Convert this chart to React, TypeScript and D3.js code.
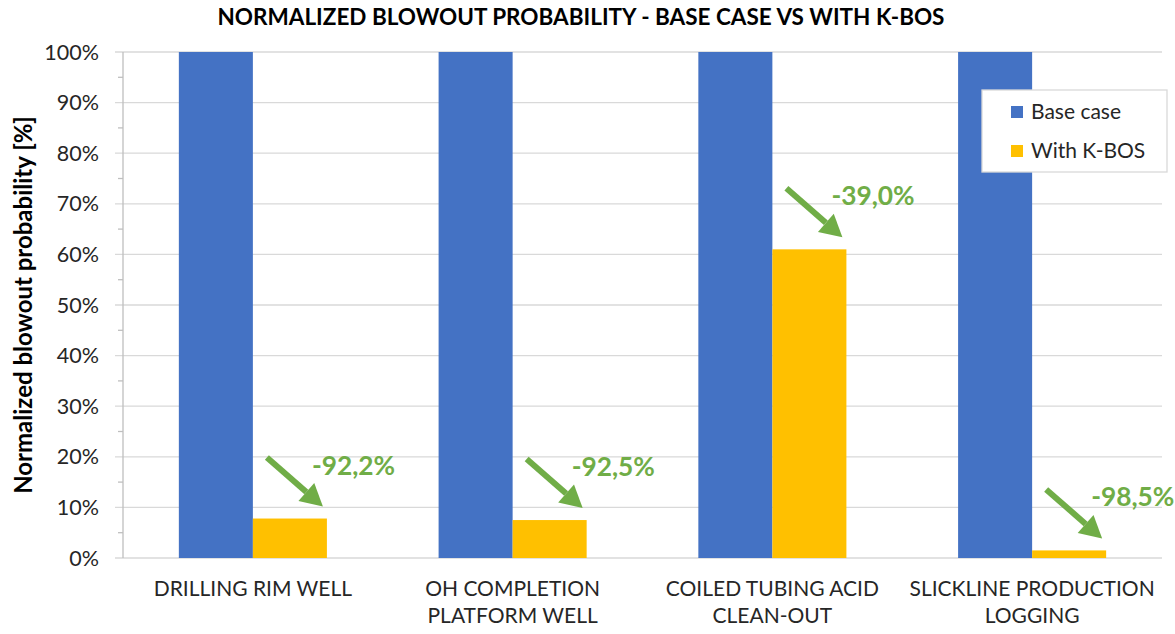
import React from "react";
import * as d3 from "d3";

const categories: string[][] = [
  ["DRILLING RIM WELL"],
  ["OH COMPLETION", "PLATFORM WELL"],
  ["COILED TUBING ACID", "CLEAN-OUT"],
  ["SLICKLINE PRODUCTION", "LOGGING"],
];
const baseCase: number[] = [100, 100, 100, 100];
const withKBOS: number[] = [7.8, 7.5, 61.0, 1.5];
const reductionLabels: string[] = ["-92,2%", "-92,5%", "-39,0%", "-98,5%"];
const seriesNames: string[] = ["Base case", "With K-BOS"];
const yTicks: number[] = [0, 10, 20, 30, 40, 50, 60, 70, 80, 90, 100];
const yMinorTicks: number[] = [5, 15, 25, 35, 45, 55, 65, 75, 85, 95];

const W = 1175;
const H = 634;
const margin = { left: 123, right: 13, top: 52, bottom: 76 };
const BLUE = "#4472C4";
const YELLOW = "#FFC000";
const GREEN = "#70AD47";
const FONT = "Lato, 'Open Sans', sans-serif";

export default function App() {
  const x0 = d3
    .scaleBand<number>()
    .domain(categories.map((_, i) => i))
    .range([margin.left, W - margin.right])
    .paddingInner(0.43)
    .paddingOuter(0.215);
  const x1 = d3
    .scaleBand<number>()
    .domain([0, 1])
    .range([0, x0.bandwidth()]);
  const y = d3
    .scaleLinear()
    .domain([0, 100])
    .range([H - margin.bottom, margin.top]);

  const series = [baseCase, withKBOS];
  const colors = [BLUE, YELLOW];

  return (
    <svg width={W} height={H} style={{ display: "block", position: "absolute", left: 0, top: 0 }}>
      <rect width={W} height={H} fill="#ffffff" />
      <text
        x={581}
        y={25}
        textAnchor="middle"
        fontFamily={FONT}
        fontWeight="bold"
        fontSize={22.5}
        fill="#000"
      >
        NORMALIZED BLOWOUT PROBABILITY - BASE CASE VS WITH K-BOS
      </text>
      {/* gridlines */}
      {yTicks.map((t) => (
        <line
          key={"g" + t}
          x1={margin.left - 8}
          x2={W - margin.right}
          y1={y(t)}
          y2={y(t)}
          stroke="#d9d9d9"
          strokeWidth={1.3}
        />
      ))}
      {yMinorTicks.map((t) => (
        <line
          key={"m" + t}
          x1={margin.left - 5}
          x2={margin.left}
          y1={y(t)}
          y2={y(t)}
          stroke="#bfbfbf"
          strokeWidth={1.3}
        />
      ))}
      <line
        x1={margin.left}
        x2={margin.left}
        y1={y(100)}
        y2={y(0)}
        stroke="#bfbfbf"
        strokeWidth={1.3}
      />
      {/* y tick labels */}
      {yTicks.map((t) => (
        <text
          key={"l" + t}
          x={99}
          y={y(t) + 7.5}
          textAnchor="end"
          fontFamily={FONT}
          fontSize={21.5}
          fill="#262626"
        >
          {t + "%"}
        </text>
      ))}
      <text
        transform={`translate(32, ${(y(0) + y(100)) / 2}) rotate(-90)`}
        textAnchor="middle"
        fontFamily={FONT}
        fontWeight="bold"
        fontSize={24}
        fill="#000"
      >
        Normalized blowout probability [%]
      </text>
      {/* bars */}
      {categories.map((_, i) => (
        <g key={"c" + i}>
          {series.map((s, j) => (
            <rect
              key={j}
              x={(x0(i) as number) + (x1(j) as number)}
              y={y(s[i])}
              width={x1.bandwidth()}
              height={y(0) - y(s[i])}
              fill={colors[j]}
            />
          ))}
        </g>
      ))}
      {/* x labels */}
      {categories.map((lines, i) => (
        <text
          key={"x" + i}
          x={(x0(i) as number) + x0.bandwidth() / 2}
          y={596}
          textAnchor="middle"
          fontFamily={FONT}
          fontSize={21}
          fill="#262626"
        >
          {lines.map((ln, k) => (
            <tspan key={k} x={(x0(i) as number) + x0.bandwidth() / 2} dy={k === 0 ? 0 : 27}>
              {ln}
            </tspan>
          ))}
        </text>
      ))}
      {/* arrows and labels */}
      {categories.map((_, i) => {
        const right = (x0(i) as number) + (x1(1) as number) + x1.bandwidth();
        const tipX = right - 4;
        const tipY = y(withKBOS[i]) - 12;
        const sx = tipX - 56;
        const sy = tipY - 49;
        const ang = Math.atan2(tipY - sy, tipX - sx);
        const headLen = 22;
        const headW = 12;
        const bx = tipX - headLen * Math.cos(ang);
        const by = tipY - headLen * Math.sin(ang);
        const px = -Math.sin(ang) * headW;
        const py = Math.cos(ang) * headW;
        const path = d3.path();
        path.moveTo(tipX, tipY);
        path.lineTo(bx + px, by + py);
        path.lineTo(bx - px, by - py);
        path.closePath();
        return (
          <g key={"a" + i}>
            <line x1={sx} y1={sy} x2={bx} y2={by} stroke={GREEN} strokeWidth={6} />
            <path d={path.toString()} fill={GREEN} />
            <text
              x={sx + 45}
              y={sy + 17}
              fontFamily={FONT}
              fontWeight="bold"
              fontSize={26.3}
              fill={GREEN}
            >
              {reductionLabels[i]}
            </text>
          </g>
        );
      })}
      {/* legend */}
      <g>
        <rect x={982} y={90} width={185} height={82} fill="#fff" stroke="#d9d9d9" strokeWidth={1.3} />
        {seriesNames.map((n, j) => (
          <g key={"lg" + j}>
            <rect x={1011} y={106 + j * 39} width={12} height={12} fill={colors[j]} />
            <text x={1031} y={119 + j * 39} fontFamily={FONT} fontSize={21} fill="#262626">
              {n}
            </text>
          </g>
        ))}
      </g>
    </svg>
  );
}
